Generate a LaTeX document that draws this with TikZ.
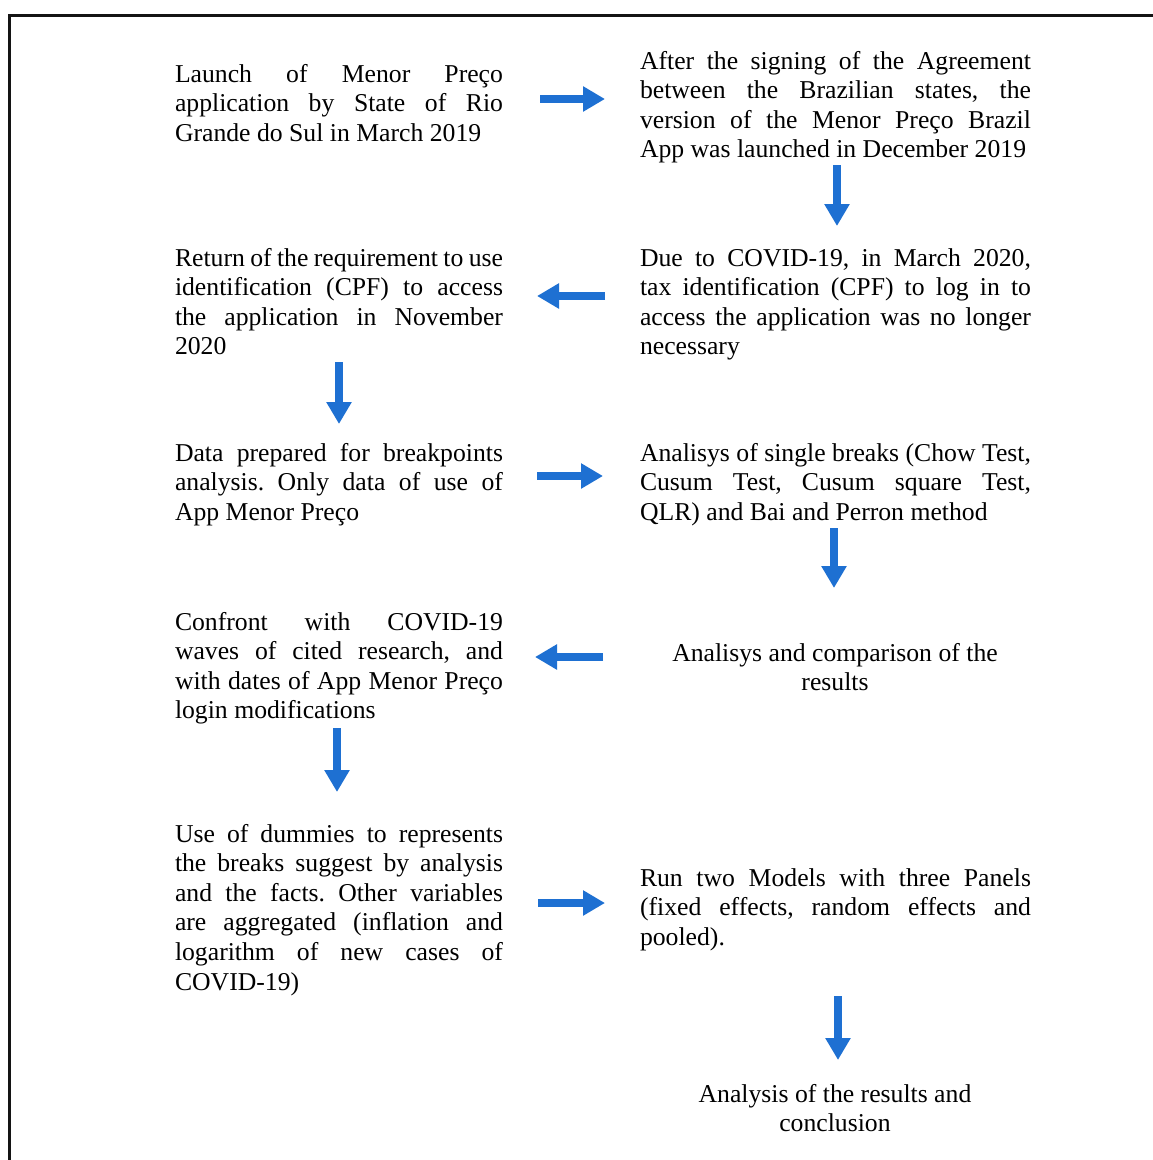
\documentclass[tikz,border=0pt]{standalone}
\usepackage{fontspec}
\setmainfont{Liberation Serif}
\usetikzlibrary{arrows.meta}
\definecolor{arrowblue}{RGB}{30,112,210}
\definecolor{framegray}{RGB}{20,20,20}
\newcommand\jlL[1]{\makebox[328pt][s]{#1}}
\newcommand\jlR[1]{\makebox[391pt][s]{#1}}
\frenchspacing
\begin{document}
\begin{tikzpicture}[x=1pt,y=-1pt,
  txt/.style={inner sep=0pt, outer sep=0pt, align=left, anchor=base west,
    font=\fontsize{25.7}{29.6}\selectfont},
  ctxt/.style={inner sep=0pt, outer sep=0pt, align=center, anchor=base,
    font=\fontsize{25.7}{29.6}\selectfont},
  flow/.style={draw=arrowblue, line width=8pt,
    -{Triangle[length=22pt,width=24pt,fill=arrowblue]}}]
\useasboundingbox (0,0) rectangle (1152,1160);
\fill[white] (0,0) rectangle (1152,1160);
% frame (top and left edges visible)
\draw[framegray, line width=2.7pt] (9.5,1170) -- (9.5,15.5) -- (1170,15.5);

% nodes are placed by the baseline of their last line
\node[txt] (b1) at (175,141.2) {\jlL{Launch of Menor Preço}\\
  \jlL{application by State of Rio}\\
  Grande do Sul in March 2019};
\node[txt] (b2) at (640,157.8) {\jlR{After the signing of the Agreement}\\
  \jlR{between the Brazilian states, the}\\
  \jlR{version of the Menor Preço Brazil}\\
  App was launched in December 2019};
\node[txt] (b3) at (640,354.8) {\jlR{Due to COVID-19, in March 2020,}\\
  \jlR{tax identification (CPF) to log in to}\\
  \jlR{access the application was no longer}\\
  necessary};
\node[txt] (b4) at (175,354.8) {\jlL{Return of the requirement to use}\\
  \jlL{identification (CPF) to access}\\
  \jlL{the application in November}\\
  2020};
\node[txt] (b5) at (175,520.2) {\jlL{Data prepared for breakpoints}\\
  \jlL{analysis. Only data of use of}\\
  App Menor Preço};
\node[txt] (b6) at (640,520.2) {\jlR{Analisys of single breaks (Chow Test,}\\
  \jlR{Cusum Test, Cusum square Test,}\\
  QLR) and Bai and Perron method};
\node[ctxt] (b7) at (835,690.6) {Analisys and comparison of the\\results};
\node[txt] (b8) at (175,718.8) {\jlL{Confront with COVID-19}\\
  \jlL{waves of cited research, and}\\
  \jlL{with dates of App Menor Preço}\\
  login modifications};
\node[txt] (b9) at (175,990) {\jlL{Use of dummies to represents}\\
  \jlL{the breaks suggest by analysis}\\
  \jlL{and the facts. Other variables}\\
  \jlL{are aggregated (inflation and}\\
  \jlL{logarithm of new cases of}\\
  COVID-19)};
\node[txt] (b10) at (640,945.2) {\jlR{Run two Models with three Panels}\\
  \jlR{(fixed effects, random effects and}\\
  pooled).};
\node[ctxt] (b11) at (835,1131.6) {Analysis of the results and\\conclusion};

% arrow end points
\coordinate (a1s) at (540,99);  \coordinate (a1e) at (605,99);
\coordinate (a2s) at (837,165); \coordinate (a2e) at (837,226);
\coordinate (a3s) at (605,296); \coordinate (a3e) at (537,296);
\coordinate (a4s) at (339,362); \coordinate (a4e) at (339,424);
\coordinate (a5s) at (537,476); \coordinate (a5e) at (603,476);
\coordinate (a6s) at (834,528); \coordinate (a6e) at (834,588);
\coordinate (a7s) at (603,657); \coordinate (a7e) at (535,657);
\coordinate (a8s) at (337,728); \coordinate (a8e) at (337,792);
\coordinate (a9s) at (538,903); \coordinate (a9e) at (605,903);
\coordinate (a10s) at (838,996); \coordinate (a10e) at (838,1060);

\draw[flow] (a1s) -- (a1e);
\draw[flow] (a2s) -- (a2e);
\draw[flow] (a3s) -- (a3e);
\draw[flow] (a4s) -- (a4e);
\draw[flow] (a5s) -- (a5e);
\draw[flow] (a6s) -- (a6e);
\draw[flow] (a7s) -- (a7e);
\draw[flow] (a8s) -- (a8e);
\draw[flow] (a9s) -- (a9e);
\draw[flow] (a10s) -- (a10e);
\end{tikzpicture}
\end{document}
